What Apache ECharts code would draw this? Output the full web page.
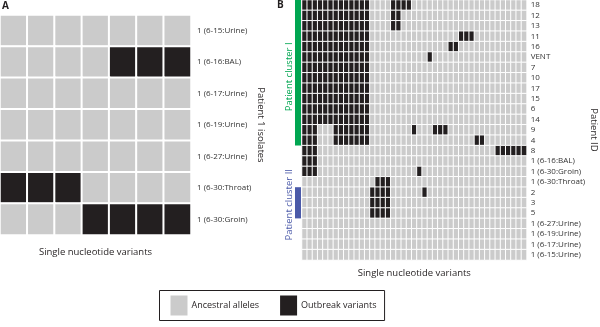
<!DOCTYPE html>
<html>
<head>
<meta charset="utf-8">
<script src="https://cdn.jsdelivr.net/npm/echarts@6/dist/echarts.min.js"></script>
<style>
  html, body { margin: 0; padding: 0; background: #fff; }
  #main { width: 600px; height: 327px; }
</style>
</head>
<body>
<div id="main"></div>
<script>
// panel A: patient 1 isolates x 7 SNVs (1 = outbreak variant)
var isolatesA = ['1 (6-15:Urine)', '1 (6-16:BAL)', '1 (6-17:Urine)', '1 (6-19:Urine)',
                 '1 (6-27:Urine)', '1 (6-30:Throat)', '1 (6-30:Groin)'];
var variantsA = ['0000000', '0000111', '0000000', '0000000', '0000000', '1110000', '0001111'];

// panel B: patient IDs x 43 SNVs, spaces only for reading
var patientsB = ['18', '12', '13', '11', '16', 'VENT', '7', '10', '17', '15', '6', '14', '9', '4', '8',
                 '1 (6-16:BAL)', '1 (6-30:Groin)', '1 (6-30:Throat)', '2', '3', '5',
                 '1 (6-27:Urine)', '1 (6-19:Urine)', '1 (6-17:Urine)', '1 (6-15:Urine)'];
var variantsB = [
    '1111111111111 0000 1111 0000 00000 00000 00000000',
    '1111111111111 0000 1100 0000 00000 00000 00000000',
    '1111111111111 0000 1100 0000 00000 00000 00000000',
    '1111111111111 0000 0000 0000 00000 11100 00000000',
    '1111111111111 0000 0000 0000 00011 00000 00000000',
    '1111111111111 0000 0000 0001 00000 00000 00000000',
    '1111111111111 0000 0000 0000 00000 00000 00000000',
    '1111111111111 0000 0000 0000 00000 00000 00000000',
    '1111111111111 0000 0000 0000 00000 00000 00000000',
    '1111111111111 0000 0000 0000 00000 00000 00000000',
    '1111111111111 0000 0000 0000 00000 00000 00000000',
    '1111111111111 0000 0000 0000 00000 00000 00000000',
    '1110001111111 0000 0000 1000 11100 00000 00000000',
    '1110001111111 0000 0000 0000 00000 00011 00000000',
    '1110000000000 0000 0000 0000 00000 00000 00111111',
    '1110000000000 0000 0000 0000 00000 00000 00000000',
    '1110000000000 0000 0000 0100 00000 00000 00000000',
    '0000000000000 0111 0000 0000 00000 00000 00000000',
    '0000000000000 1111 0000 0010 00000 00000 00000000',
    '0000000000000 1111 0000 0000 00000 00000 00000000',
    '0000000000000 1111 0000 0000 00000 00000 00000000',
    '0000000000000 0000 0000 0000 00000 00000 00000000',
    '0000000000000 0000 0000 0000 00000 00000 00000000',
    '0000000000000 0000 0000 0000 00000 00000 00000000',
    '0000000000000 0000 0000 0000 00000 00000 00000000'
];
var clusterI = ['18', '4'];
var clusterII = ['2', '5'];
var legendNames = ['Ancestral alleles', 'Outbreak variants'];

var font = 'Open Sans';
var ink = '#231f20';

function toCells(rows) {
    var cells = [];
    rows.forEach(function (r, y) {
        r.replace(/ /g, '').split('').forEach(function (v, x) {
            cells.push([x, y, +v]);
        });
    });
    return cells;
}
function colNames(rows) {
    var n = rows[0].replace(/ /g, '').length, a = [];
    for (var i = 0; i < n; i++) a.push(String(i + 1));
    return a;
}

var myChart = echarts.init(document.getElementById('main'));

var hideAxis = {
    axisLine: { show: false }, axisTick: { show: false }, splitLine: { show: false }
};
var nameStyle = { fontFamily: font, fontSize: 9.5, color: ink };

var option = {
    animation: false,
    grid: [
        { left: 0, top: 15, width: 191, height: 220 },
        { left: 302, top: 0, width: 230, height: 260 }
    ],
    xAxis: [
        Object.assign({ type: 'category', gridIndex: 0, data: colNames(variantsA),
            axisLabel: { show: false },
            name: 'Single nucleotide variants', nameLocation: 'middle', nameGap: 12,
            nameTextStyle: nameStyle }, hideAxis),
        Object.assign({ type: 'category', gridIndex: 1, data: colNames(variantsB),
            axisLabel: { show: false },
            name: 'Single nucleotide variants', nameLocation: 'middle', nameGap: 8,
            nameTextStyle: nameStyle }, hideAxis)
    ],
    yAxis: [
        Object.assign({ type: 'category', gridIndex: 0, data: isolatesA, inverse: true, position: 'right',
            axisLabel: { margin: 6, fontFamily: font, fontSize: 8, color: '#333' },
            name: 'Patient 1 isolates', nameLocation: 'middle', nameRotate: -90, nameGap: 59,
            nameTextStyle: nameStyle }, hideAxis),
        Object.assign({ type: 'category', gridIndex: 1, data: patientsB, inverse: true, position: 'right',
            axisLabel: { margin: 4, fontFamily: font, fontSize: 8, color: '#333' },
            name: 'Patient ID', nameLocation: 'middle', nameRotate: -90, nameGap: 58,
            nameTextStyle: nameStyle }, hideAxis)
    ],
    visualMap: {
        type: 'piecewise',
        dimension: 2,
        seriesIndex: [0, 1],
        orient: 'horizontal',
        left: 159,
        top: 290,
        itemWidth: 17,
        itemHeight: 20,
        itemGap: 21,
        textGap: 4,
        itemSymbol: 'rect',
        selectedMode: false,
        padding: [5, 8, 5, 11],
        borderColor: ink,
        borderWidth: 1,
        textStyle: { fontFamily: font, fontSize: 9, color: ink },
        pieces: [
            { value: 0, label: legendNames[0], color: '#cbcbcb' },
            { value: 1, label: legendNames[1], color: ink }
        ]
    },
    series: [
        {
            type: 'heatmap', xAxisIndex: 0, yAxisIndex: 0,
            data: toCells(variantsA),
            itemStyle: { borderColor: '#fff', borderWidth: 2 },
            emphasis: { disabled: true }
        },
        {
            type: 'heatmap', xAxisIndex: 1, yAxisIndex: 1,
            data: toCells(variantsB),
            itemStyle: { borderColor: '#fff', borderWidth: 1 },
            emphasis: { disabled: true }
        }
    ]
};
myChart.setOption(option);

// cluster bars placed from the row scale of panel B
function rowSpan(ids) {
    var a = myChart.convertToPixel({ xAxisIndex: 1, yAxisIndex: 1 }, [0, ids[0]]);
    var b = myChart.convertToPixel({ xAxisIndex: 1, yAxisIndex: 1 }, [0, ids[1]]);
    var h = 260 / patientsB.length;
    return { top: a[1] - h / 2, bottom: b[1] + h / 2 };
}
var c1 = rowSpan(clusterI), c2 = rowSpan(clusterII);

myChart.setOption({
    graphic: [
        { type: 'text', left: 2, top: 1, style: { text: 'A', font: 'bold 10px ' + font, fill: ink } },
        { type: 'text', left: 277, top: 0, style: { text: 'B', font: 'bold 10px ' + font, fill: ink } },
        { type: 'rect', shape: { x: 295, y: c1.top, width: 6, height: c1.bottom - c1.top },
          style: { fill: '#00a651' } },
        { type: 'rect', shape: { x: 295, y: c2.top, width: 6, height: c2.bottom - c2.top },
          style: { fill: '#4b5aa9' } },
        { type: 'text', x: 289, y: (c1.top + c1.bottom) / 2 + 4, rotation: Math.PI / 2,
          style: { text: 'Patient cluster I', font: '9.5px ' + font, fill: '#00a651',
                   textAlign: 'center', textVerticalAlign: 'middle' } },
        { type: 'text', x: 289, y: (c2.top + c2.bottom) / 2 + 2, rotation: Math.PI / 2,
          style: { text: 'Patient cluster II', font: '9.5px ' + font, fill: '#4b5aa9',
                   textAlign: 'center', textVerticalAlign: 'middle' } }
    ]
});
</script>
</body>
</html>
